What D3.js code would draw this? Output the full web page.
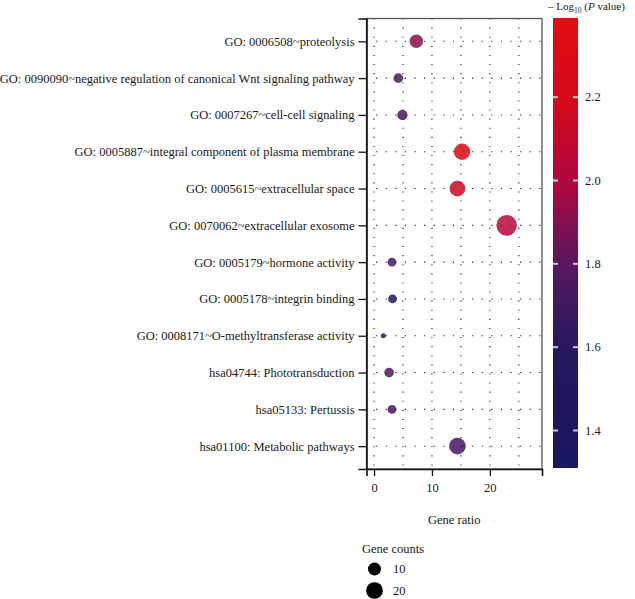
<!DOCTYPE html>
<html>
<head>
<meta charset="utf-8">
<script src="https://cdn.jsdelivr.net/npm/d3@7"></script>
<style>
  body { margin: 0; background: #fff; }
  svg text { font-family: "Liberation Serif", "Times New Roman", "DejaVu Serif", serif; fill: #1a1a1a; }
</style>
</head>
<body>
<div class="container"></div>
<script>
// terms, top to bottom
var terms = [
	"GO: 0006508~proteolysis",
	"GO: 0090090~negative regulation of canonical Wnt signaling pathway",
	"GO: 0007267~cell-cell signaling",
	"GO: 0005887~integral component of plasma membrane",
	"GO: 0005615~extracellular space",
	"GO: 0070062~extracellular exosome",
	"GO: 0005179~hormone activity",
	"GO: 0005178~integrin binding",
	"GO: 0008171~O-methyltransferase activity",
	"hsa04744: Phototransduction",
	"hsa05133: Pertussis",
	"hsa01100: Metabolic pathways"
];
var geneRatio = [7.3, 4.2, 4.9, 15.2, 14.4, 22.9, 3.1, 3.2, 1.6, 2.6, 3.1, 14.4];
var geneCounts = [11, 4, 5, 19, 17, 35, 3, 3, 1, 4, 3, 20];
var logP = [1.91, 1.77, 1.72, 2.30, 2.12, 2.03, 1.71, 1.52, 1.42, 1.77, 1.70, 1.71];

var xTicks = [0, 10, 20];
var colorTicks = [1.4, 1.6, 1.8, 2.0, 2.2];
var sizeLegend = [10, 20];
// colour bar stops
var colorStops = [1.31, 1.6, 1.8, 2.0, 2.2, 2.39];
var colorRange = ["#1a1660", "#26185e", "#5a1760", "#b0083e", "#d80818", "#e00d10"];

(function() {
	var width = 635, height = 599;
	var panel = {left: 366.5, right: 542, top: 18.5, bottom: 469};

	var svg = d3.select(".container").append("svg")
		.attr("width", width)
		.attr("height", height);

	var x = d3.scaleLinear().domain([-1.3, 29]).range([panel.left, panel.right]);
	var y = d3.scalePoint().domain(terms).range([panel.top, panel.bottom]).padding(0.62);

	var color = d3.scaleLinear().domain(colorStops).range(colorRange);
	var cExtent = [colorStops[0], colorStops[colorStops.length - 1]];

	var cMin = d3.min(geneCounts), cMax = d3.max(geneCounts);
	var rMin = 2.5, rMax = 10.3;
	var rs = d3.scaleSqrt().domain([0, cMax - cMin]).range([0, rMax - rMin]);
	function radius(c) { return rMin + rs(Math.max(0, c - cMin)); }

	// grid
	var grid = svg.append("g");
	grid.selectAll("line.v").data([0, 5, 10, 15, 20, 25]).enter().append("line")
		.attr("x1", function(d) { return x(d); })
		.attr("x2", function(d) { return x(d); })
		.attr("y1", panel.top)
		.attr("y2", panel.bottom)
		.style("stroke", "#111")
		.style("stroke-width", 1.1)
		.style("stroke-dasharray", "1.1,8");
	grid.selectAll("line.h").data(terms).enter().append("line")
		.attr("x1", panel.left)
		.attr("x2", panel.right)
		.attr("y1", function(d) { return y(d); })
		.attr("y2", function(d) { return y(d); })
		.style("stroke", "#111")
		.style("stroke-width", 1.1)
		.style("stroke-dasharray", "1.1,8.5");

	// points
	var data = terms.map(function(t, i) {
		return {term: t, ratio: geneRatio[i], count: geneCounts[i], p: logP[i]};
	});
	svg.append("g").selectAll("circle").data(data).enter().append("circle")
		.attr("cx", function(d) { return x(d.ratio); })
		.attr("cy", function(d) { return y(d.term); })
		.attr("r", function(d) { return radius(d.count); })
		.style("fill", function(d) { return color(d.p); })
		.style("fill-opacity", 0.85);

	// frame
	svg.append("rect")
		.attr("x", panel.left).attr("y", panel.top)
		.attr("width", panel.right - panel.left)
		.attr("height", panel.bottom - panel.top)
		.style("fill", "none")
		.style("stroke", "#555")
		.style("stroke-width", 1.3);

	// axes
	var yAxis = svg.append("g")
		.attr("transform", "translate(" + panel.left + ",0)")
		.call(d3.axisLeft(y).tickSize(8).tickPadding(4));
	var xAxis = svg.append("g")
		.attr("transform", "translate(0," + panel.bottom + ")")
		.call(d3.axisBottom(x).tickValues(xTicks).tickSize(7).tickPadding(7));
	[yAxis, xAxis].forEach(function(a) {
		a.attr("font-family", null);
		a.select(".domain").style("stroke", "#111").style("stroke-width", 1.6);
		a.selectAll(".tick line").style("stroke", "#111").style("stroke-width", 1.3);
		a.selectAll("text").style("font-size", "12.5px").style("fill", "#1a1a1a");
	});

	svg.append("text")
		.attr("x", (panel.left + panel.right) / 2)
		.attr("y", 524)
		.attr("text-anchor", "middle")
		.style("font-size", "12.5px")
		.text("Gene ratio");

	// colour bar
	var bar = {x: 553, w: 25, top: 18, bottom: 468};
	var cy = d3.scaleLinear().domain(cExtent).range([bar.bottom, bar.top]);
	var defs = svg.append("defs");
	var grad = defs.append("linearGradient").attr("id", "cbar")
		.attr("x1", 0).attr("y1", 1).attr("x2", 0).attr("y2", 0);
	d3.range(0, 1.0001, 0.025).forEach(function(t) {
		var v = cExtent[0] + t * (cExtent[1] - cExtent[0]);
		grad.append("stop").attr("offset", t).attr("stop-color", color(v));
	});
	svg.append("rect")
		.attr("x", bar.x).attr("y", bar.top)
		.attr("width", bar.w).attr("height", bar.bottom - bar.top)
		.style("fill", "url(#cbar)");
	var ct = svg.append("g").selectAll("g").data(colorTicks).enter().append("g");
	ct.append("line")
		.attr("x1", bar.x).attr("x2", bar.x + 5)
		.attr("y1", function(d) { return cy(d); }).attr("y2", function(d) { return cy(d); })
		.style("stroke", "#fff").style("stroke-opacity", 0.75).style("stroke-width", 2);
	ct.append("line")
		.attr("x1", bar.x + bar.w - 5).attr("x2", bar.x + bar.w)
		.attr("y1", function(d) { return cy(d); }).attr("y2", function(d) { return cy(d); })
		.style("stroke", "#fff").style("stroke-opacity", 0.75).style("stroke-width", 2);
	ct.append("text")
		.attr("x", 585)
		.attr("y", function(d) { return cy(d) + 4; })
		.style("font-size", "12.5px")
		.text(function(d) { return d3.format(".1f")(d); });

	var title = svg.append("text").attr("x", 548).attr("y", 10).style("font-size", "11px");
	title.append("tspan").text("\u2013 Log");
	title.append("tspan").attr("dy", 3).style("font-size", "7.5px").text("10");
	title.append("tspan").attr("dy", -3).text(" (");
	title.append("tspan").style("font-style", "italic").text("P");
	title.append("tspan").text(" value)");

	// size legend
	svg.append("text").attr("x", 362).attr("y", 553).style("font-size", "12.5px").text("Gene counts");
	var sl = svg.append("g").selectAll("g").data(sizeLegend).enter().append("g");
	sl.append("circle")
		.attr("cx", 374.5)
		.attr("cy", function(d, i) { return 569 + i * 21.5; })
		.attr("r", function(d) { return radius(d); })
		.style("fill", "#000");
	sl.append("text")
		.attr("x", 393)
		.attr("y", function(d, i) { return 573 + i * 21.5; })
		.style("font-size", "12.5px")
		.text(function(d) { return d; });
})();
</script>
</body>
</html>
